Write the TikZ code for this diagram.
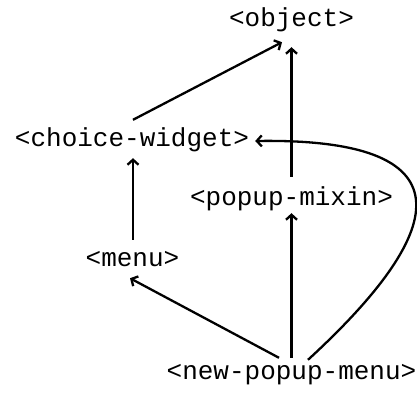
\documentclass[tikz,border=0pt]{standalone}
\usepackage{fontspec}
\setmainfont{Liberation Mono}
\usetikzlibrary{arrows.meta}
\begin{document}
\begin{tikzpicture}[x=1pt,y=-1pt,
  cls/.style={inner sep=0pt,anchor=base,text height=15pt,text depth=5pt,font=\fontsize{26}{30}\selectfont},
  edge/.style={line width=2.3pt,-{Straight Barb[length=5pt,width=11pt]}}]
\useasboundingbox (0,0) rectangle (417,395);
\node[cls] (obj) at (291.5,27) {<object>};
\node[cls] (cw) at (132,147) {<choice-widget>};
\node[cls] (pm) at (291.5,206) {<popup-mixin>};
\node[cls] (menu) at (132.5,266) {<menu>};
\node[cls] (npm) at (291.5,379) {<new-popup-menu>};
\draw[edge] ([xshift=1pt,yshift=12pt]cw.north) -- ([xshift=-9.5pt,yshift=-10pt]obj.south);
\draw[edge] ([yshift=14pt]pm.north) -- ([yshift=-15pt]obj.south);
\draw[edge] ([xshift=0.5pt,yshift=11pt]menu.north) -- ([xshift=1pt,yshift=-6pt]cw.south);
\draw[edge] ([xshift=-12.5pt,yshift=6pt]npm.north) -- ([xshift=-2.5pt,yshift=-7pt]menu.south);
\draw[edge] ([yshift=6pt]npm.north) -- ([yshift=-2pt]pm.south);
\draw[edge] ([xshift=16.5pt,yshift=4pt]npm.north) .. controls +(147,-135) and +(210,-3) .. ([xshift=6pt,yshift=1pt]cw.east);
\end{tikzpicture}
\end{document}
